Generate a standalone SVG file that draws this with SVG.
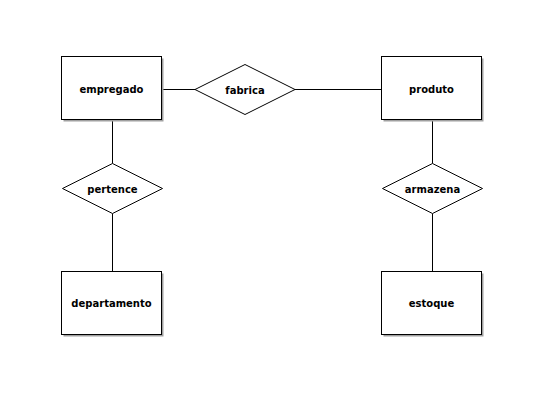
<svg xmlns="http://www.w3.org/2000/svg" width="543" height="401" viewBox="0 0 543 401">
<style>
.shadow{fill:#a0a0a0;stroke:none}
.ent{fill:#ffffff;stroke:#000000;stroke-width:1}
.rel{fill:#ffffff;stroke:#000000;stroke-width:1}
.lbl{font-family:"DejaVu Sans",Verdana,sans-serif;font-weight:bold;font-size:10px;fill:#000000;text-anchor:middle}
.conn line{stroke:#000000;stroke-width:1}
</style>
<rect width="543" height="401" fill="#ffffff"/>
<g id="connectors" class="conn">
<line x1="161.5" y1="89.5" x2="195" y2="89.5"/>
<line x1="295" y1="89.5" x2="381.5" y2="89.5"/>
<line x1="112.5" y1="119.5" x2="112.5" y2="163.5"/>
<line x1="112.5" y1="213.5" x2="112.5" y2="271.5"/>
<line x1="432.5" y1="119.5" x2="432.5" y2="163.5"/>
<line x1="432.5" y1="213.5" x2="432.5" y2="271.5"/>
</g>
<g id="empregado">
<rect class="shadow" x="63.5" y="58.5" width="100" height="63"/>
<rect class="ent" x="61.5" y="56.5" width="100" height="63"/>
<text class="lbl" x="111.5" y="93">empregado</text>
</g>
<g id="produto">
<rect class="shadow" x="383.5" y="58.5" width="100" height="63"/>
<rect class="ent" x="381.5" y="56.5" width="100" height="63"/>
<text class="lbl" x="431.5" y="93">produto</text>
</g>
<g id="departamento">
<rect class="shadow" x="63.5" y="273.5" width="100" height="63"/>
<rect class="ent" x="61.5" y="271.5" width="100" height="63"/>
<text class="lbl" x="111.5" y="307">departamento</text>
</g>
<g id="estoque">
<rect class="shadow" x="383.5" y="273.5" width="100" height="63"/>
<rect class="ent" x="381.5" y="271.5" width="100" height="63"/>
<text class="lbl" x="431.5" y="307">estoque</text>
</g>
<g id="fabrica">
<polygon class="rel" points="195,89.5 245,64.5 295,89.5 245,114.5"/>
<text class="lbl" x="245" y="93.5">fabrica</text>
</g>
<g id="pertence">
<polygon class="rel" points="62.5,188.5 112.5,163.5 162.5,188.5 112.5,213.5"/>
<text class="lbl" x="112.5" y="192.5">pertence</text>
</g>
<g id="armazena">
<polygon class="rel" points="382.5,188.5 432.5,163.5 482.5,188.5 432.5,213.5"/>
<text class="lbl" x="432.5" y="192.5">armazena</text>
</g>
</svg>
